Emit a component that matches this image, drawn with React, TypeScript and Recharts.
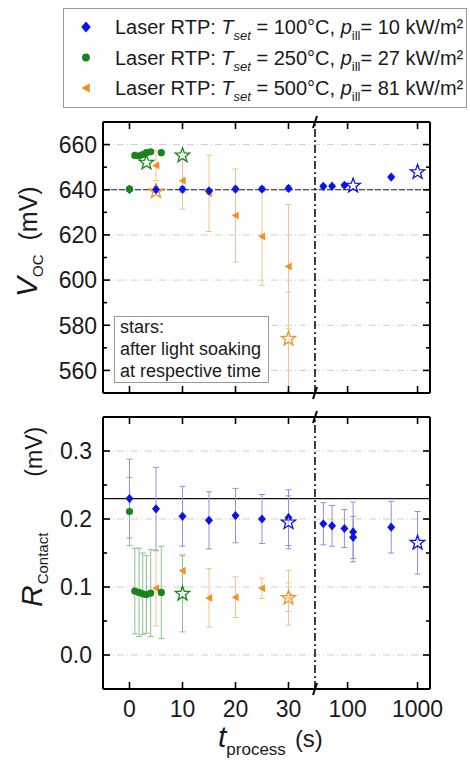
import React from 'react';
import { ScatterChart, Scatter, XAxis, YAxis, CartesianGrid, ReferenceLine, ErrorBar } from 'recharts';

// time axis is broken: linear up to 35 s, log above
const xTickSec = [0, 10, 20, 30, 100, 1000];
const BREAK = 35;
const LOG_ORIGIN = 34.2;
const UNITS_PER_DECADE = 13.2;
const toAxis = (t: number) =>
  t <= BREAK ? t : BREAK + (Math.log10(t) - Math.log10(LOG_ORIGIN)) * UNITS_PER_DECADE;
const xTickPos = xTickSec.map(toAxis);
const xDomain: [number, number] = [-5, 56.7];

// V_OC panel
const vocMajor = [560, 580, 600, 620, 640, 660];
const vocMinor = [570, 590, 610, 630, 650];
const vocInitial = 640;

const vocBlueT = [0, 5, 10, 15, 20, 25, 30, 45, 60, 90, 420];
const vocBlue = [640.2, 640.0, 640.2, 639.5, 640.3, 640.3, 640.6, 641.5, 641.6, 642.0, 645.6];
const vocBlueErr = [1.0, 1.2, 1.2, 1.0, 1.2, 1.0, 1.2, 0.8, 0.8, 0.8, 0.8];
const vocBlueStarT = [120, 1000];
const vocBlueStar = [641.8, 647.8];

const vocGreenT = [0, 1, 1.8, 2.5, 3.2, 4, 6];
const vocGreen = [640.3, 655.2, 655.0, 655.6, 656.4, 656.8, 656.4];
const vocGreenErr = [0.8, 0.8, 0.8, 0.8, 0.8, 0.8, 0.8];
const vocGreenStarT = [3.2, 10];
const vocGreenStar = [652.0, 655.2];

const vocOrangeT = [5, 10, 15, 20, 25, 30];
const vocOrange = [650.7, 644.0, 638.4, 628.6, 619.3, 606.0];
const vocOrangeErr = [6.6, 12.6, 16.9, 20.6, 21.6, 27.5];
const vocOrangeStarT = [5, 30];
const vocOrangeStar = [639.3, 574.0];
const vocOrangeStarErrLo = [0.5, 23.5];
const vocOrangeStarErrHi = [0.5, 20.6];

// R_Contact panel
const rMajor = [0, 0.1, 0.2, 0.3];
const rMinor = [0.05, 0.15, 0.25];
const rInitial = 0.23;

const rBlueT = [0, 5, 10, 15, 20, 25, 30, 45, 60, 90, 120, 120, 420];
const rBlue = [0.23, 0.215, 0.204, 0.198, 0.205, 0.2, 0.202, 0.193, 0.19, 0.186, 0.181, 0.173, 0.188];
const rBlueErr = [0.058, 0.061, 0.044, 0.042, 0.04, 0.036, 0.041, 0.031, 0.03, 0.028, 0.044, 0.031, 0.038];
const rBlueStarT = [30, 1000];
const rBlueStar = [0.195, 0.165];
const rBlueStarErr = [0.039, 0.046];

const rGreenT = [0, 1, 1.8, 2.5, 3.2, 4, 6];
const rGreen = [0.211, 0.094, 0.092, 0.09, 0.089, 0.091, 0.092];
const rGreenErr = [0.05, 0.063, 0.065, 0.06, 0.057, 0.064, 0.068];
const rGreenStarT = [10];
const rGreenStar = [0.09];
const rGreenStarErr = [0.056];

const rOrangeT = [5, 10, 15, 20, 25, 30];
const rOrange = [0.098, 0.124, 0.084, 0.085, 0.098, 0.085];
const rOrangeErr = [0.055, 0.024, 0.043, 0.03, 0.015, 0.021];
const rOrangeStarT = [30];
const rOrangeStar = [0.084];
const rOrangeStarErr = [0.04];

const legendTemp = [100, 250, 500];
const legendPower = [10, 27, 81];

const BLUE = '#0a14e6';
const GREEN = '#17841c';
const ORANGE = '#f39224';
const BLUE_ERR = '#9090e0';
const GREEN_ERR = '#8cc08c';
const ORANGE_ERR = '#f3c28e';
const TXT = '#1a1a1a';
const FONT = '"Liberation Sans", Arial, sans-serif';

const rows = (t: number[], y: number[], lo?: number[], hi?: number[]) =>
  t.map((s, i) => ({
    x: toAxis(s),
    y: y[i],
    err: [lo ? lo[i] : 0, hi ? hi[i] : lo ? lo[i] : 0],
  }));

type P = { cx?: number; cy?: number };

const starPath = (cx: number, cy: number, R: number, r: number) => {
  let d = '';
  for (let i = 0; i < 10; i++) {
    const a = -Math.PI / 2 + (i * Math.PI) / 5;
    const rad = i % 2 === 0 ? R : r;
    d += (i ? 'L' : 'M') + (cx + rad * Math.cos(a)).toFixed(2) + ',' + (cy + rad * Math.sin(a)).toFixed(2);
  }
  return d + 'Z';
};

const diamond = (fill: string, s = 1) => ({ cx = 0, cy = 0 }: P) => (
  <path d={`M${cx},${cy - 4.6 * s}L${cx + 4 * s},${cy}L${cx},${cy + 4.6 * s}L${cx - 4 * s},${cy}Z`} fill={fill} />
);
const circle = (fill: string, s = 1) => ({ cx = 0, cy = 0 }: P) => <circle cx={cx} cy={cy} r={3.6 * s} fill={fill} />;
const triangle = (fill: string, s = 1) => ({ cx = 0, cy = 0 }: P) => (
  <path d={`M${cx - 3.8 * s},${cy}L${cx + 3.2 * s},${cy - 4 * s}L${cx + 3.2 * s},${cy + 4 * s}Z`} fill={fill} />
);
const star = (stroke: string) => ({ cx = 0, cy = 0 }: P) => (
  <path d={starPath(cx, cy, 7.6, 3.1)} fill="#fff" fillOpacity={0.55} stroke={stroke} strokeWidth={1.3} strokeLinejoin="miter" />
);

const yTick = (majors: number[], side: 'left' | 'right', fmt: (v: number) => string, gap: number) => (props: any) => {
  const { x, y, payload } = props;
  const major = majors.includes(payload.value);
  const dir = side === 'left' ? 1 : -1;
  return (
    <g>
      <line x1={x} x2={x + dir * (major ? 7 : 4)} y1={y} y2={y} stroke="#000" strokeWidth={1.6} />
      {side === 'left' && major && (
        <text x={x - gap} y={y} dy="0.36em" textAnchor="end" fontSize={23} fill={TXT}>
          {fmt(payload.value)}
        </text>
      )}
    </g>
  );
};

const xTick = (side: 'top' | 'bottom', labels: boolean) => (props: any) => {
  const { x, y, payload } = props;
  const dir = side === 'bottom' ? -1 : 1;
  const sec = xTickSec[xTickPos.indexOf(payload.value)];
  return (
    <g>
      <line x1={x} x2={x} y1={y} y2={y + dir * 7} stroke="#000" strokeWidth={1.6} />
      {labels && (
        <text x={x} y={y + 28} textAnchor="middle" fontSize={23} fill={TXT}>
          {sec}
        </text>
      )}
    </g>
  );
};

const BreakMarks = (props: any) => {
  const vb = props.viewBox;
  if (!vb) return null;
  const { x, y, height } = vb;
  return (
    <g>
      <line x1={x - 2} y1={y + 6} x2={x + 2} y2={y - 6} stroke="#000" strokeWidth={2} />
      <line x1={x - 2} y1={y + height + 6} x2={x + 2} y2={y + height - 6} stroke="#000" strokeWidth={2} />
    </g>
  );
};

const axisLine = { stroke: '#000', strokeWidth: 2 };

function Panel(props: {
  height: number;
  margin: { top: number; right: number; bottom: number; left: number };
  domain: [number, number];
  majors: number[];
  minors: number[];
  fmt: (v: number) => string;
  gap: number;
  bottomLabels: boolean;
  bottomHeight: number;
  children: React.ReactNode;
}) {
  const ticks = [...props.majors, ...props.minors].sort((a, b) => a - b);
  return (
    <ScatterChart width={470} height={props.height} margin={props.margin}>
      <CartesianGrid
        xAxisId="b"
        yAxisId="l"
        vertical={false}
        horizontalValues={props.majors}
        stroke="#cfcfcf"
        strokeDasharray="7 3 1 3"
      />
      <XAxis
        xAxisId="b"
        dataKey="x"
        type="number"
        domain={xDomain}
        allowDataOverflow
        ticks={xTickPos}
        interval={0}
        height={props.bottomHeight}
        axisLine={axisLine}
        tickLine={false}
        tickSize={0}
        tickMargin={0}
        tick={xTick('bottom', props.bottomLabels)}
      />
      <XAxis
        xAxisId="t"
        orientation="top"
        dataKey="x"
        type="number"
        domain={xDomain}
        allowDataOverflow
        ticks={xTickPos}
        interval={0}
        height={10}
        axisLine={axisLine}
        tickLine={false}
        tickSize={0}
        tickMargin={0}
        tick={xTick('top', false)}
      />
      <YAxis
        yAxisId="l"
        dataKey="y"
        type="number"
        domain={props.domain}
        allowDataOverflow
        ticks={ticks}
        interval={0}
        width={60}
        axisLine={axisLine}
        tickLine={false}
        tickSize={0}
        tickMargin={0}
        tick={yTick(props.majors, 'left', props.fmt, props.gap)}
      />
      <YAxis
        yAxisId="r"
        orientation="right"
        dataKey="y"
        type="number"
        domain={props.domain}
        allowDataOverflow
        ticks={ticks}
        interval={0}
        width={10}
        axisLine={axisLine}
        tickLine={false}
        tickSize={0}
        tickMargin={0}
        tick={yTick(props.majors, 'right', props.fmt, props.gap)}
      />
      <ReferenceLine
        xAxisId="b"
        yAxisId="l"
        x={BREAK}
        stroke="#000"
        strokeWidth={1.5}
        strokeDasharray="8 3 2 3"
        label={BreakMarks}
      />
      {props.children}
    </ScatterChart>
  );
}

const sc = { xAxisId: 'b', yAxisId: 'l', dataKey: 'y', isAnimationActive: false } as const;

export default function App() {
  return (
    <div style={{ position: 'absolute', left: 0, top: 0, width: 470, height: 762, fontFamily: FONT, background: '#fff' }}>
      <div style={{ position: 'absolute', left: 0, top: 0 }}>
        <Panel
          height={410}
          margin={{ top: 112, right: 30, bottom: 7, left: 43 }}
          domain={[550, 670]}
          majors={vocMajor}
          minors={vocMinor}
          fmt={(v) => String(v)}
          gap={6}
          bottomLabels={false}
          bottomHeight={10}
        >
          <ReferenceLine xAxisId="b" yAxisId="l" y={vocInitial} stroke="#222" strokeWidth={1.2} strokeDasharray="6 2" />
          <Scatter {...sc} data={rows(vocOrangeT, vocOrange, vocOrangeErr)} shape={triangle(ORANGE)}>
            <ErrorBar dataKey="err" direction="y" width={3} stroke={ORANGE_ERR} strokeWidth={1} />
          </Scatter>
          <Scatter {...sc} data={rows(vocOrangeStarT, vocOrangeStar, vocOrangeStarErrLo, vocOrangeStarErrHi)} shape={star(ORANGE)}>
            <ErrorBar dataKey="err" direction="y" width={3} stroke={ORANGE_ERR} strokeWidth={1} />
          </Scatter>
          <Scatter {...sc} data={rows(vocBlueT, vocBlue, vocBlueErr)} shape={diamond(BLUE)}>
            <ErrorBar dataKey="err" direction="y" width={3} stroke={BLUE_ERR} strokeWidth={1} />
          </Scatter>
          <Scatter {...sc} data={rows(vocBlueStarT, vocBlueStar)} shape={star(BLUE)} />
          <Scatter {...sc} data={rows(vocGreenT, vocGreen, vocGreenErr)} shape={circle(GREEN)}>
            <ErrorBar dataKey="err" direction="y" width={3} stroke={GREEN_ERR} strokeWidth={1} />
          </Scatter>
          <Scatter {...sc} data={rows(vocGreenStarT, vocGreenStar)} shape={star(GREEN)} />
        </Panel>
      </div>
      <div style={{ position: 'absolute', left: 0, top: 400 }}>
        <Panel
          height={362}
          margin={{ top: 7, right: 30, bottom: 33, left: 43 }}
          domain={[-0.05, 0.35]}
          majors={rMajor}
          minors={rMinor}
          fmt={(v) => v.toFixed(1)}
          gap={11}
          bottomLabels={true}
          bottomHeight={40}
        >
          <ReferenceLine xAxisId="b" yAxisId="l" y={rInitial} stroke="#111" strokeWidth={1.3} />
          <Scatter {...sc} data={rows(rOrangeT, rOrange, rOrangeErr)} shape={triangle(ORANGE)}>
            <ErrorBar dataKey="err" direction="y" width={3} stroke={ORANGE_ERR} strokeWidth={1} />
          </Scatter>
          <Scatter {...sc} data={rows(rOrangeStarT, rOrangeStar, rOrangeStarErr)} shape={star(ORANGE)}>
            <ErrorBar dataKey="err" direction="y" width={3} stroke={ORANGE_ERR} strokeWidth={1} />
          </Scatter>
          <Scatter {...sc} data={rows(rGreenT, rGreen, rGreenErr)} shape={circle(GREEN)}>
            <ErrorBar dataKey="err" direction="y" width={3} stroke={GREEN_ERR} strokeWidth={1} />
          </Scatter>
          <Scatter {...sc} data={rows(rGreenStarT, rGreenStar, rGreenStarErr)} shape={star(GREEN)}>
            <ErrorBar dataKey="err" direction="y" width={3} stroke={GREEN_ERR} strokeWidth={1} />
          </Scatter>
          <Scatter {...sc} data={rows(rBlueT, rBlue, rBlueErr)} shape={diamond(BLUE)}>
            <ErrorBar dataKey="err" direction="y" width={3} stroke={BLUE_ERR} strokeWidth={1} />
          </Scatter>
          <Scatter {...sc} data={rows(rBlueStarT, rBlueStar, rBlueStarErr)} shape={star(BLUE)}>
            <ErrorBar dataKey="err" direction="y" width={3} stroke={BLUE_ERR} strokeWidth={1} />
          </Scatter>
        </Panel>
      </div>

      <svg width={470} height={762} style={{ position: 'absolute', left: 0, top: 0, pointerEvents: 'none' }}>
        {/* legend */}
        <rect x={63.5} y={8.5} width={403} height={99} fill="#fff" stroke="#9a9a9a" strokeWidth={1} />
        {legendTemp.map((temp, i) => {
          const base = 34 + i * 30.5;
          const marker = [diamond(BLUE, 1.2), circle(GREEN, 1.1), triangle(ORANGE, 1.2)][i];
          return (
            <g key={temp}>
              {marker({ cx: 86, cy: base - 7 })}
              <text x={115} y={base} fontSize={20} fill={TXT}>
                Laser RTP: <tspan fontStyle="italic">T</tspan>
                <tspan fontSize={13} fontStyle="italic" dy={6}>set</tspan>
                <tspan dy={-6}> = {temp}°C, </tspan>
                <tspan fontStyle="italic">p</tspan>
                <tspan fontSize={13} dy={6}>ill</tspan>
                <tspan dy={-6}>= {legendPower[i]} kW/m²</tspan>
              </text>
            </g>
          );
        })}

        {/* stars note */}
        <rect x={114.5} y={316.5} width={154} height={66} fill="#fff" stroke="#9a9a9a" strokeWidth={1} />
        <text fontSize={18} fill={TXT}>
          <tspan x={120} y={333}>stars:</tspan>
          <tspan x={120} y={355}>after light soaking</tspan>
          <tspan x={120} y={377}>at respective time</tspan>
        </text>

        {/* axis titles */}
        <text transform="translate(37,297) rotate(-90)" fill={TXT}>
          <tspan fontSize={30} fontStyle="italic">V</tspan>
          <tspan fontSize={15} dy={6}>OC</tspan>
          <tspan fontSize={25} dy={-6} dx={14}>(mV)</tspan>
        </text>
        <text transform="translate(42,607) rotate(-90)" fill={TXT}>
          <tspan fontSize={30} fontStyle="italic">R</tspan>
          <tspan fontSize={15} dy={6} dx={1}>Contact</tspan>
          <tspan fontSize={23} dy={-6} dx={56}>(mV)</tspan>
        </text>
        <text x={218} y={747} fill={TXT}>
          <tspan fontSize={30} fontStyle="italic">t</tspan>
          <tspan fontSize={17} dy={8}>process</tspan>
          <tspan fontSize={24} dy={-8} dx={9}>(s)</tspan>
        </text>
      </svg>
    </div>
  );
}
